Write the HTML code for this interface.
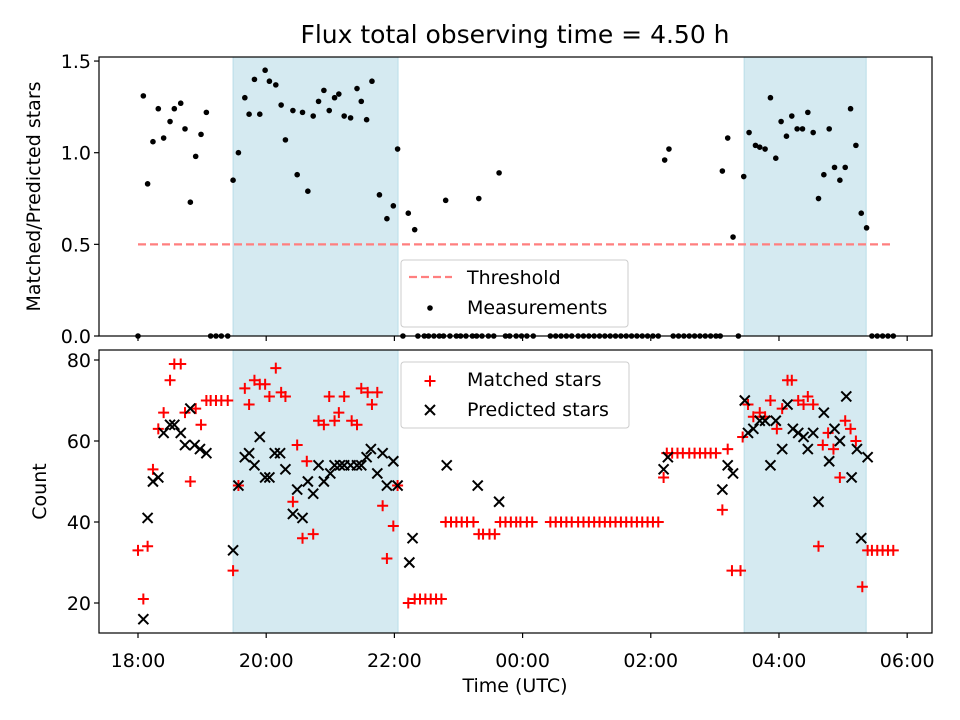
<!DOCTYPE html>
<html><head><meta charset="utf-8"><style>
body{margin:0;background:#fff;}
svg{display:block;font-family:"DejaVu Sans","Liberation Sans",sans-serif;}
</style></head><body>
<svg id="chart" width="960" height="720" viewBox="0 0 960 720" xmlns="http://www.w3.org/2000/svg">
<rect width="960" height="720" fill="#fff"/>
<text x="515" y="43" font-size="25" text-anchor="middle">Flux total observing time = 4.50 h</text>
<g id="top"></g><g id="bot"></g>
</svg>
<script>
// times in minutes since 18:00
const ratioTimes=[5,9,14,19,24,30,34,40,44,49,54,59,64,89,94,100,104,109,114,119,123,129,134,138,145,149,154,159,164,169,174,179,184,188,193,199,205,209,214,219,226,233,239,243,253,259,288,319,338,493,497,547,552,557,567,572,578,582,587,592,597,602,607,612,617,622,627,632,637,642,647,652,657,662,667,672,677,682];
const ratioValues=[1.31,0.83,1.06,1.24,1.08,1.17,1.24,1.27,1.13,0.73,0.98,1.10,1.22,0.85,1.00,1.30,1.21,1.40,1.21,1.45,1.39,1.37,1.26,1.07,1.23,0.88,1.22,0.79,1.20,1.28,1.34,1.23,1.30,1.32,1.20,1.19,1.35,1.28,1.18,1.39,0.77,0.64,0.71,1.02,0.67,0.58,0.74,0.75,0.89,0.96,1.02,0.90,1.08,0.54,0.87,1.11,1.04,1.03,1.02,1.30,0.97,1.17,1.09,1.20,1.13,1.13,1.22,1.11,0.75,0.88,1.13,0.92,0.85,0.92,1.24,1.04,0.67,0.59];
const zeroTimes=[0,68,73,78,84,248,262,268,272,277,282,286,292,298,302,307,313,317,322,328,333,344,348,354,359,364,370,386,391,396,401,406,412,417,422,427,432,437,442,447,452,457,462,467,472,477,482,487,501,506,511,516,521,526,531,536,541,545,562,687,692,697,702,707];
const matchedTimes=[0,5,9,14,19,24,30,34,40,44,49,54,59,64,68,73,78,84,89,94,100,104,109,114,119,123,129,134,138,145,149,154,158,164,169,174,179,184,188,193,200,205,209,215,219,224,229,233,239,243,253,259,264,269,274,279,284,288,293,298,303,308,314,319,323,329,334,339,344,349,354,358,364,369,386,391,396,401,406,412,417,422,427,432,437,442,447,452,457,462,467,472,477,482,487,492,495,500,505,510,516,521,526,531,536,541,547,552,556,564,566,571,576,582,587,592,598,603,608,612,618,623,627,632,637,641,646,651,657,662,667,672,678,683,687,692,697,702,707];
const matchedValues=[33,21,34,53,63,67,75,79,79,67,50,68,64,70,70,70,70,70,28,49,73,69,75,74,74,71,78,72,71,45,59,36,55,37,65,64,71,65,67,71,65,64,73,72,69,72,44,31,39,49,20,21,21,21,21,21,21,40,40,40,40,40,40,37,37,37,37,40,40,40,40,40,40,40,40,40,40,40,40,40,40,40,40,40,40,40,40,40,40,40,40,40,40,40,40,51,57,57,57,57,57,57,57,57,57,57,43,58,28,28,61,69,66,67,66,70,63,68,75,75,70,69,71,69,34,59,62,58,51,65,63,60,24,33,33,33,33,33,33];
const predTimes=[5,9,14,19,24,30,34,40,44,49,53,58,64,89,94,100,104,109,114,119,123,128,133,138,145,149,154,159,164,169,174,180,184,189,193,199,205,209,214,218,224,229,233,239,243,254,257,289,318,338,492,496,547,552,557,568,571,576,582,587,592,597,603,608,613,618,623,627,632,637,642,647,652,657,663,668,673,677,683];
const predValues=[16,41,50,51,62,64,64,62,59,68,59,58,57,33,49,56,57,54,61,51,51,57,57,53,42,48,41,50,47,54,50,52,54,54,54,54,54,54,56,58,52,57,49,55,49,30,36,54,49,45,53,56,48,54,52,70,62,63,65,65,54,65,58,69,63,62,61,58,62,45,67,55,63,60,71,51,58,36,56];
const xTickMinutes=[0,120,240,360,480,600,720];
const xTickLabels=["18:00","20:00","22:00","00:00","02:00","04:00","06:00"];
const topTicks=[0,0.5,1.0,1.5];
const topTickLabels=["0.0","0.5","1.0","1.5"];
const botTicks=[20,40,60,80];
const shadeSpans=[[89,243.4],[567.4,681.6]];
const threshold=0.5, thresholdSpan=[0,707];

const NS="http://www.w3.org/2000/svg";
const L=99,R=932;
const FS=19;
const xs=m=>138+m*1.0683;
const yTop=v=>336-v*183.3;
const yBot=v=>360+(80-v)*4.05;
function mk(tag,attrs,parent){const e=document.createElementNS(NS,tag);for(const k in attrs)e.setAttribute(k,attrs[k]);parent.appendChild(e);return e;}

function panel(g,y0,y1,yf,ticks,labels,ylabel,yx){
  for(const s of shadeSpans){
    const r=mk('rect',{x:xs(s[0]),y:y0,width:xs(s[1])-xs(s[0]),height:y1-y0,fill:'#d5eaf1',stroke:'#b9dde8','stroke-width':1},g);
    
    
  }
  xTickMinutes.forEach(m=>{mk('line',{x1:xs(m),x2:xs(m),y1:y1,y2:y1+5,stroke:'#000','stroke-width':1.2},g);});
  ticks.forEach((t,i)=>{
    mk('line',{x1:L-5,x2:L,y1:yf(t),y2:yf(t),stroke:'#000','stroke-width':1.2},g);
    const tx=mk('text',{x:L-8,y:yf(t)+7,'font-size':FS,'text-anchor':'end'},g);
    tx.textContent=labels[i];
    
    
  });
  const yl=mk('text',{x:0,y:0,'font-size':FS,'text-anchor':'middle',transform:`translate(${yx},${(y0+y1)/2}) rotate(-90)`},g);
  yl.textContent=ylabel;
  
  
}
function frame(g,y0,y1){
  const f=mk('rect',{x:L,y:y0,width:R-L,height:y1-y0,fill:'none',stroke:'#000','stroke-width':1.2},g);
  
  
}
const topG=document.getElementById('top'),botG=document.getElementById('bot');
panel(topG,57,336,yTop,topTicks,topTickLabels,'Matched/Predicted stars',40);
panel(botG,350,633,yBot,botTicks,botTicks.map(String),'Count',46);

const th=mk('line',{x1:xs(thresholdSpan[0]),x2:xs(thresholdSpan[1]),y1:yTop(threshold),y2:yTop(threshold),stroke:'#ff7f7f','stroke-width':2.2,'stroke-dasharray':'8,4'},topG);


ratioTimes.forEach((t,i)=>{
  const c=mk('circle',{cx:xs(t),cy:yTop(ratioValues[i]),r:2.8,fill:'#000'},topG);
  
  
});
zeroTimes.forEach(t=>{
  const c=mk('circle',{cx:xs(t),cy:yTop(0),r:2.8,fill:'#000'},topG);
  
  
});
function plus(g,x,y,c){mk('path',{d:`M${x-5.5},${y}H${x+5.5}M${x},${y-5.5}V${y+5.5}`,stroke:c,'stroke-width':2,fill:'none'},g);}
function cross(g,x,y){mk('path',{d:`M${x-5},${y-5}L${x+5},${y+5}M${x-5},${y+5}L${x+5},${y-5}`,stroke:'#000','stroke-width':2,fill:'none'},g);}
const mg=mk('g',{},botG);


matchedTimes.forEach((t,i)=>plus(mg,xs(t),yBot(matchedValues[i]),'#f00'));
const pg=mk('g',{},botG);


predTimes.forEach((t,i)=>cross(pg,xs(t),yBot(predValues[i])));
frame(topG,57,336);frame(botG,350,633);
xTickMinutes.forEach((m,i)=>{
  const tx=mk('text',{x:xs(m),y:667,'font-size':FS,'text-anchor':'middle'},botG);
  tx.textContent=xTickLabels[i];
  
  
});
const xl=mk('text',{x:515,y:692,'font-size':FS,'text-anchor':'middle'},botG);
xl.textContent='Time (UTC)';



// legends
const lg1=mk('g',{},topG);


mk('rect',{x:401,y:260,width:227,height:67,rx:3,fill:'#fff','fill-opacity':0.8,stroke:'#ccc','stroke-width':1},lg1);
mk('line',{x1:409,x2:452,y1:277,y2:277,stroke:'#ff7f7f','stroke-width':2.2,'stroke-dasharray':'8,4'},lg1);
let t1=mk('text',{x:467,y:284,'font-size':FS},lg1);t1.textContent='Threshold';
mk('circle',{cx:430,cy:308,r:2.8,fill:'#000'},lg1);
let t2=mk('text',{x:467,y:314,'font-size':FS},lg1);t2.textContent='Measurements';
const lg2=mk('g',{},botG);


mk('rect',{x:401,y:362,width:228,height:66,rx:3,fill:'#fff','fill-opacity':0.8,stroke:'#ccc','stroke-width':1},lg2);
plus(lg2,430,381,'#f00');
let t3=mk('text',{x:467,y:386,'font-size':FS},lg2);t3.textContent='Matched stars';
cross(lg2,430,410);
let t4=mk('text',{x:467,y:416,'font-size':FS},lg2);t4.textContent='Predicted stars';
</script>
</body></html>
